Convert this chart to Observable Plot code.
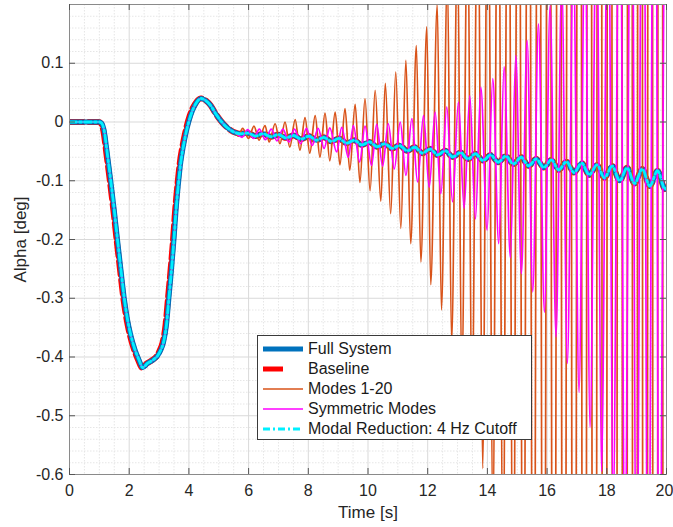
<!DOCTYPE html>
<html>
<head>
<meta charset="utf-8">
<script src="https://cdn.jsdelivr.net/npm/d3@7"></script>
<script src="https://cdn.jsdelivr.net/npm/@observablehq/plot@0.6"></script>
<style>
  html, body { margin: 0; padding: 0; background: white; }
  #wrap { position: relative; width: 673px; height: 527px; font-family: "Liberation Sans", Arial, Helvetica, sans-serif; }
  #legend { position: absolute; left: 257px; top: 335px; width: 273px; height: 103px; background: white; border: 1px solid #3a3a3a; box-sizing: content-box; }
  .row { position: absolute; left: 0; height: 20px; display: flex; align-items: center; font-size: 16px; color: #1a1a1a; white-space: nowrap; }
  .row svg { margin-left: 5px; margin-right: 5px; }
</style>
</head>
<body>
<div id="wrap"></div>
<script>
// ---------- tick positions ----------
const xTicks = [0, 2, 4, 6, 8, 10, 12, 14, 16, 18, 20];
const xMinor = [0.5, 1, 1.5, 2.5, 3, 3.5, 4.5, 5, 5.5, 6.5, 7, 7.5, 8.5, 9, 9.5, 10.5, 11, 11.5, 12.5, 13, 13.5, 14.5, 15, 15.5, 16.5, 17, 17.5, 18.5, 19, 19.5];
const yTicks = [-0.6, -0.5, -0.4, -0.3, -0.2, -0.1, 0, 0.1];
const yMinor = [-0.58, -0.56, -0.54, -0.52, -0.48, -0.46, -0.44, -0.42, -0.38, -0.36, -0.34, -0.32, -0.28, -0.26, -0.24, -0.22, -0.18, -0.16, -0.14, -0.12, -0.08, -0.06, -0.04, -0.02, 0.02, 0.04, 0.06, 0.08, 0.12, 0.14, 0.16, 0.18];

// ---------- series names ----------
const seriesNames = ["Full System", "Baseline", "Modes 1-20", "Symmetric Modes", "Modal Reduction: 4 Hz Cutoff"];

// ---------- common transient ----------
const transT = [0, 1.0, 1.08, 1.16, 1.27, 1.38, 1.50, 1.61, 1.72, 1.83, 1.94, 2.05, 2.19, 2.33, 2.45, 2.61, 2.80, 2.95, 3.06, 3.15, 3.25, 3.33, 3.42, 3.50, 3.57, 3.65, 3.73, 3.82, 3.92, 4.06, 4.23, 4.40, 4.55, 4.73, 4.90, 5.07, 5.25, 5.40, 5.55];
const transV = [0, 0, -0.002, -0.014, -0.055, -0.099, -0.150, -0.201, -0.250, -0.298, -0.335, -0.362, -0.387, -0.405, -0.418, -0.411, -0.405, -0.398, -0.388, -0.375, -0.345, -0.300, -0.250, -0.200, -0.150, -0.105, -0.068, -0.040, -0.015, 0.011, 0.031, 0.040, 0.037, 0.028, 0.014, 0.002, -0.008, -0.014, -0.018];

// Baseline transient (slightly earlier)
const baseTransT = [0, 0.98, 1.05, 1.13, 1.24, 1.35, 1.47, 1.58, 1.69, 1.80, 1.91, 2.02, 2.16, 2.30, 2.43, 2.59, 2.78, 2.93, 3.03, 3.12, 3.22, 3.30, 3.39, 3.47, 3.54, 3.62, 3.70, 3.79, 3.89, 4.03, 4.21, 4.39, 4.55, 4.73, 4.90, 5.07, 5.25, 5.40, 5.55];

// Full system / modal reduction tail: peaks and troughs of the small oscillation
const tailT = [5.70, 5.98, 6.23, 6.49, 6.74, 7.00, 7.25, 7.51, 7.76, 8.02, 8.27, 8.52, 8.77, 9.03, 9.28, 9.54, 9.79, 10.05, 10.30, 10.56, 10.81, 11.06, 11.31, 11.57, 11.82, 12.08, 12.33, 12.59, 12.84, 13.10, 13.35, 13.60, 13.85, 14.11, 14.36, 14.62, 14.87, 15.13, 15.38, 15.64, 15.89, 16.14, 16.39, 16.65, 16.90, 17.16, 17.41, 17.67, 17.92, 18.18, 18.43, 18.68, 18.93, 19.19, 19.44, 19.70, 19.95, 20.0];
const tailV = [-0.020, -0.019, -0.024, -0.020, -0.025, -0.0215, -0.027, -0.023, -0.029, -0.024, -0.031, -0.026, -0.033, -0.028, -0.036, -0.031, -0.039, -0.034, -0.042, -0.037, -0.045, -0.040, -0.049, -0.043, -0.053, -0.046, -0.056, -0.049, -0.0595, -0.052, -0.063, -0.054, -0.0655, -0.056, -0.0685, -0.058, -0.0715, -0.060, -0.0745, -0.063, -0.0775, -0.0645, -0.0815, -0.0676, -0.086, -0.070, -0.090, -0.073, -0.095, -0.075, -0.100, -0.078, -0.1045, -0.080, -0.109, -0.083, -0.114, -0.112];

// Modes 1-20: peaks and troughs (off-scale values estimated)
const modesT = [5.66, 5.80, 6.00, 6.18, 6.35, 6.55, 6.69, 6.89, 7.05, 7.22, 7.38, 7.56, 7.72, 7.89, 8.05, 8.23, 8.39, 8.56, 8.72, 8.90, 9.06, 9.23, 9.39, 9.57, 9.73, 9.90, 10.07, 10.24, 10.43, 10.58, 10.76, 10.93, 11.10, 11.27, 11.43, 11.62, 11.77, 11.97, 12.10, 12.32, 12.46, 12.66, 12.80, 13.00, 13.14, 13.34, 13.48, 13.68, 13.84, 14.02, 14.18, 14.36, 14.52, 14.70, 14.86, 15.04, 15.20, 15.38, 15.54, 15.72, 15.88, 16.06, 16.22, 16.40, 16.56, 16.74, 16.90, 17.08, 17.24, 17.42, 17.58, 17.76, 17.92, 18.10, 18.26, 18.44, 18.60, 18.78, 18.94, 19.12, 19.28, 19.46, 19.62, 19.80, 19.96, 20.14];
const modesV = [-0.024, -0.011, -0.028, -0.007, -0.031, -0.006, -0.034, -0.003, -0.037, 0.000, -0.043, 0.004, -0.048, 0.0075, -0.053, 0.011, -0.060, 0.015, -0.066, 0.017, -0.073, 0.023, -0.082, 0.030, -0.103, 0.040, -0.117, 0.054, -0.135, 0.066, -0.156, 0.085, -0.181, 0.105, -0.207, 0.130, -0.238, 0.162, -0.277, 0.200, -0.320, 0.25, -0.375, 0.31, -0.44, 0.38, -0.51, 0.46, -0.59, 0.55, -0.70, 0.66, -0.83, 0.79, -0.98, 0.94, -1.16, 1.12, -1.37, 1.33, -1.62, 1.58, -1.92, 1.88, -2.27, 2.23, -2.69, 2.65, -3.18, 3.14, -3.77, 3.72, -4.46, 4.41, -5.3, 5.2, -6.2, 6.2, -7.4, 7.3, -8.7, 8.7, -10.3, 10.3, -12.2, 12.2];

// Symmetric modes: peaks and troughs (off-scale values estimated)
const symT = [5.78, 5.97, 6.17, 6.36, 6.56, 6.76, 6.95, 7.15, 7.35, 7.54, 7.74, 7.94, 8.13, 8.33, 8.53, 8.72, 8.95, 9.12, 9.34, 9.51, 9.72, 9.90, 10.12, 10.29, 10.49, 10.68, 10.88, 11.08, 11.27, 11.47, 11.66, 11.86, 12.05, 12.25, 12.44, 12.64, 12.83, 13.03, 13.22, 13.41, 13.60, 13.78, 13.99, 14.18, 14.38, 14.56, 14.77, 14.95, 15.14, 15.33, 15.52, 15.71, 15.91, 16.10, 16.30, 16.49, 16.68, 16.88, 17.07, 17.27, 17.44, 17.66, 17.82, 18.05, 18.21, 18.44, 18.60, 18.83, 18.99, 19.22, 19.38, 19.61, 19.77, 20.00];
const symV = [-0.026, -0.013, -0.028, -0.012, -0.030, -0.012, -0.032, -0.012, -0.034, -0.012, -0.037, -0.011, -0.040, -0.011, -0.045, -0.010, -0.051, -0.009, -0.060, -0.006, -0.068, -0.007, -0.074, -0.004, -0.075, -0.003, -0.080, 0.000, -0.091, 0.006, -0.102, 0.011, -0.111, 0.017, -0.122, 0.026, -0.136, 0.034, -0.147, 0.045, -0.165, 0.059, -0.184, 0.074, -0.207, 0.094, -0.231, 0.113, -0.258, 0.139, -0.289, 0.167, -0.324, 0.198, -0.366, 0.24, -0.411, 0.29, -0.46, 0.35, -0.52, 0.42, -0.595, 0.50, -0.68, 0.60, -0.78, 0.71, -0.90, 0.84, -1.03, 1.00, -1.19, 1.18];

// ---------- styles ----------
const seriesColors = ["#0072BD", "#FF0000", "#D95319", "#FF00FF", "#00F0FF"];
const seriesWidths = [5, 6, 1.7, 1.7, 2.8];
const seriesDashes = [null, "14,5", null, null, "7,3,2,3"];

const toRows = (T, V) => T.map((t, i) => ({t, v: V[i]}));
const fullData = toRows(transT.concat(tailT), transV.concat(tailV));
const baseData = toRows(baseTransT.concat(tailT), transV.concat(tailV));
const modesData = toRows(transT.concat(modesT), transV.concat(modesV));
const symData = toRows(transT.concat(symT), transV.concat(symV));

const W = 673, H = 527, mL = 69, mR = 7, mT = 4, mB = 53;
const fw = W - mL - mR, fh = H - mT - mB;
const font = '"Liberation Sans", Arial, Helvetica, sans-serif';

function lineMark(data, k) {
  const o = {x: "t", y: "v", stroke: seriesColors[k], strokeWidth: seriesWidths[k], curve: "monotone-x", clip: true, strokeLinejoin: "round"};
  if (seriesDashes[k]) o.strokeDasharray = seriesDashes[k];
  return Plot.line(data, o);
}

const chart = Plot.plot({
  width: W, height: H,
  marginLeft: mL, marginRight: mR, marginTop: mT, marginBottom: mB,
  x: {domain: [0, 20], axis: null},
  y: {domain: [-0.6, 0.2]},
  style: {fontFamily: font, fontSize: "16px", color: "#262626", background: "white"},
  marks: [
    Plot.ruleX(xMinor, {stroke: "#e6e6e6", strokeDasharray: "1.5,1.5"}),
    Plot.ruleY(yMinor, {stroke: "#e6e6e6", strokeDasharray: "1.5,1.5"}),
    Plot.ruleX(xTicks, {stroke: "#d9d9d9"}),
    Plot.ruleY(yTicks, {stroke: "#d9d9d9"}),
    lineMark(baseData, 1),
    lineMark(fullData, 0),
    lineMark(modesData, 2),
    lineMark(symData, 3),
    lineMark(fullData, 4),
    Plot.frame({stroke: "#8a8a8a"}),
    Plot.ruleX(xTicks, {stroke: "#555", insetTop: fh - 6}),
    Plot.ruleX(xTicks, {stroke: "#555", insetBottom: fh - 6}),
    Plot.ruleY(yTicks, {stroke: "#555", insetRight: fw - 6}),
    Plot.ruleY(yTicks, {stroke: "#555", insetLeft: fw - 6}),
    // x tick labels (last one nudged so it stays inside the picture)
    Plot.text(xTicks.slice(0, -1), {x: d => d, text: d => String(d), frameAnchor: "bottom", dy: 16, textAnchor: "middle", lineAnchor: "middle", fontSize: 16, fill: "#262626"}),
    Plot.text(xTicks.slice(-1), {x: d => d, text: d => String(d), frameAnchor: "bottom", dy: 16, dx: -2, textAnchor: "middle", lineAnchor: "middle", fontSize: 16, fill: "#262626"}),
    Plot.axisY({ticks: yTicks, tickSize: 0, tickPadding: 6, label: null, fontSize: 16, tickFormat: d => String(d)}),
    Plot.text(["Time [s]"], {frameAnchor: "bottom", dy: 38, textAnchor: "middle", lineAnchor: "middle", fontSize: 17, fill: "#262626"}),
    Plot.text(["Alpha [deg]"], {frameAnchor: "left", rotate: -90, dx: -49, textAnchor: "middle", lineAnchor: "middle", fontSize: 17, fill: "#262626"})
  ]
});

const wrap = document.getElementById("wrap");
wrap.appendChild(chart);

// ---------- legend (inside plot) ----------
const legend = document.createElement("div");
legend.id = "legend";
seriesNames.forEach((name, k) => {
  const row = document.createElement("div");
  row.className = "row";
  row.style.top = (3 + 20 * k) + "px";
  const dash = k === 1 ? "20,30" : (seriesDashes[k] || "");
  const sw = k <= 1 ? 5 : seriesWidths[k];
  row.innerHTML = `<svg width="40" height="20"><line x1="0" x2="40" y1="10" y2="10" stroke="${seriesColors[k]}" stroke-width="${sw}" ${dash ? `stroke-dasharray="${dash}"` : ""}/></svg><span>${name}</span>`;
  legend.appendChild(row);
});
wrap.appendChild(legend);
</script>
</body>
</html>
